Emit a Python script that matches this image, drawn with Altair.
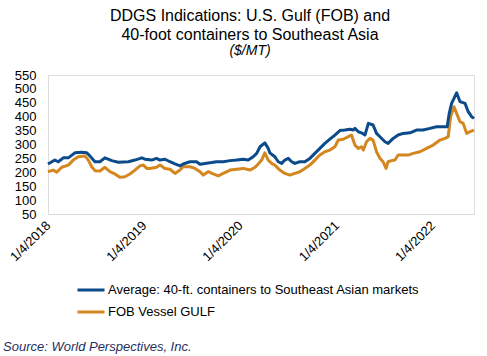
import altair as alt
import pandas as pd

SERIES_A = "Average: 40-ft. containers to Southeast Asian markets"
SERIES_B = "FOB Vessel GULF"

blue_dates = [
    "2018-01-04", "2018-01-30", "2018-02-12", "2018-03-03", "2018-03-22", "2018-04-16",
    "2018-05-12", "2018-05-31", "2018-06-12", "2018-07-01", "2018-07-20", "2018-08-08",
    "2018-09-03", "2018-09-28", "2018-11-05", "2018-11-30", "2018-12-26", "2019-01-07",
    "2019-02-02", "2019-02-20", "2019-03-05", "2019-03-24", "2019-04-12", "2019-05-01",
    "2019-05-20", "2019-06-01", "2019-06-27", "2019-07-22", "2019-08-04", "2019-08-23",
    "2019-09-17", "2019-10-06", "2019-10-31", "2019-11-26", "2019-12-21", "2020-01-15",
    "2020-02-03", "2020-02-22", "2020-03-06", "2020-03-19", "2020-04-06", "2020-04-19",
    "2020-04-25", "2020-05-14", "2020-05-27", "2020-06-09", "2020-06-21", "2020-07-04",
    "2020-07-17", "2020-07-29", "2020-08-17", "2020-09-05", "2020-09-24", "2020-10-13",
    "2020-11-01", "2020-11-20", "2020-12-09", "2020-12-28", "2021-01-16", "2021-02-04",
    "2021-02-23", "2021-03-08", "2021-03-14", "2021-03-27", "2021-04-08", "2021-04-21",
    "2021-05-04", "2021-05-22", "2021-06-04", "2021-06-17", "2021-07-06", "2021-07-18",
    "2021-08-06", "2021-08-25", "2021-09-13", "2021-10-09", "2021-11-03", "2021-11-28",
    "2021-12-24", "2022-01-18", "2022-02-12", "2022-02-27", "2022-03-07", "2022-03-16",
    "2022-04-04", "2022-04-17", "2022-05-06", "2022-05-18", "2022-05-31", "2022-06-09",
]
blue_vals = [
    230, 244, 238, 252, 252, 270,
    272, 270, 259, 238, 238, 252,
    242, 236, 238, 244, 252, 247,
    244, 250, 244, 247, 238, 230,
    223, 230, 238, 238, 229, 232,
    235, 238, 238, 242, 244, 247,
    244, 256, 268, 292, 306, 286,
    270, 256, 238, 232, 244, 250,
    238, 232, 238, 238, 250, 268,
    286, 304, 319, 334, 350, 352,
    355, 352, 358, 346, 342, 334,
    376, 370, 340, 328, 310, 304,
    322, 334, 340, 342, 352, 352,
    358, 364, 364, 364, 412, 448,
    486, 454, 448, 418, 400, 394,
]

orange_dates = [
    "2018-01-04", "2018-01-24", "2018-02-06", "2018-02-25", "2018-03-22", "2018-04-10",
    "2018-04-29", "2018-05-24", "2018-06-06", "2018-06-19", "2018-07-01", "2018-07-20",
    "2018-08-08", "2018-08-27", "2018-09-15", "2018-10-04", "2018-10-23", "2018-11-11",
    "2018-11-30", "2018-12-19", "2019-01-01", "2019-01-14", "2019-01-26", "2019-02-20",
    "2019-03-05", "2019-03-24", "2019-04-12", "2019-05-01", "2019-05-20", "2019-06-01",
    "2019-06-27", "2019-07-16", "2019-08-04", "2019-08-16", "2019-09-04", "2019-09-23",
    "2019-10-12", "2019-10-31", "2019-11-26", "2019-12-21", "2020-01-15", "2020-02-10",
    "2020-02-29", "2020-03-12", "2020-03-25", "2020-04-06", "2020-04-19", "2020-05-02",
    "2020-05-14", "2020-06-02", "2020-06-21", "2020-07-10", "2020-07-29", "2020-08-17",
    "2020-09-05", "2020-09-24", "2020-10-13", "2020-11-01", "2020-11-20", "2020-12-09",
    "2020-12-28", "2021-01-10", "2021-01-29", "2021-02-17", "2021-03-01", "2021-03-14",
    "2021-03-27", "2021-04-08", "2021-04-15", "2021-04-27", "2021-05-10", "2021-05-22",
    "2021-06-04", "2021-06-17", "2021-06-29", "2021-07-10", "2021-07-18", "2021-07-31",
    "2021-08-13", "2021-08-25", "2021-09-13", "2021-10-02", "2021-10-21", "2021-11-16",
    "2021-12-11", "2022-01-05", "2022-01-31", "2022-02-19", "2022-03-03", "2022-03-12",
    "2022-03-25", "2022-04-04", "2022-04-17", "2022-04-29", "2022-05-12", "2022-05-25",
    "2022-06-09",
]
orange_vals = [
    202, 208, 200, 218, 226, 244,
    256, 259, 244, 220, 206, 205,
    218, 202, 194, 182, 184, 194,
    208, 223, 226, 214, 214, 218,
    226, 214, 211, 196, 208, 220,
    220, 214, 202, 190, 202, 194,
    187, 196, 208, 211, 214, 208,
    218, 230, 244, 270, 244, 232,
    226, 208, 196, 190, 196, 202,
    214, 226, 244, 262, 274, 280,
    292, 316, 319, 328, 334, 298,
    286, 292, 280, 310, 322, 316,
    274, 250, 238, 214, 238, 242,
    244, 262, 262, 262, 268, 274,
    286, 298, 316, 322, 328, 400,
    436, 412, 382, 376, 340, 346,
    352,
]

y_ticks = [50, 100, 150, 200, 250, 300, 350, 400, 450, 500, 550]
tick_years = [2018, 2019, 2020, 2021, 2022]

BLUE = "#0B4A8B"
ORANGE = "#D4861F"
FONT = "Liberation Sans"

df = pd.concat([
    pd.DataFrame({"date": blue_dates, "value": blue_vals, "series": SERIES_A}),
    pd.DataFrame({"date": orange_dates, "value": orange_vals, "series": SERIES_B}),
], ignore_index=True)

x_enc = alt.X(
    "date:T",
    scale=alt.Scale(
        type="utc",
        domain=[alt.DateTime(year=2018, month=1, date=4, utc=True),
                alt.DateTime(year=2022, month=6, date=9, utc=True)],
    ),
    axis=alt.Axis(
        values=[alt.DateTime(year=y, month=1, date=4, utc=True) for y in tick_years],
        labelExpr="utcFormat(datum.value, '%-m/%-d/%Y')",
        labelAngle=315, labelAlign="right", labelBaseline="middle",
        labelPadding=9, ticks=False, grid=False, title=None,
        domainColor="#D9D9D9", domainWidth=1,
        labelFontSize=13, labelColor="#000000", labelFont=FONT,
        labelOverlap=False, labelFlush=False,
    ),
)
y_enc = alt.Y(
    "value:Q",
    scale=alt.Scale(domain=[50, 550], nice=False, zero=False),
    axis=alt.Axis(
        values=y_ticks, domain=False, ticks=False, grid=False, title=None,
        labelPadding=12, labelFontSize=13, labelColor="#000000", labelFont=FONT,
        labelOverlap=False, labelFlush=False,
    ),
)
color_enc = alt.Color(
    "series:N",
    scale=alt.Scale(domain=[SERIES_A, SERIES_B], range=[BLUE, ORANGE]),
    legend=alt.Legend(
        orient="none", legendX=28, legendY=200, direction="vertical", title=None,
        symbolType="stroke", symbolSize=729, symbolStrokeWidth=3,
        labelFontSize=13, labelFont=FONT, labelColor="#000000", labelOffset=2,
        rowPadding=-4, padding=0, labelLimit=500,
    ),
)

base = alt.Chart(df)
orange_line = base.transform_filter(alt.datum.series == SERIES_B).mark_line(
    strokeWidth=3, strokeJoin="round"
).encode(x=x_enc, y=y_enc, color=color_enc)
blue_line = base.transform_filter(alt.datum.series == SERIES_A).mark_line(
    strokeWidth=3, strokeJoin="round"
).encode(x=x_enc, y=y_enc, color=color_enc)

source = alt.Chart(pd.DataFrame({"t": ["Source: World Perspectives, Inc."]})).mark_text(
    align="left", baseline="middle", fontStyle="italic", fontSize=13,
    font=FONT, color="#1F2F5F",
).encode(text="t:N", x=alt.value(-45), y=alt.value(272))

chart = alt.layer(orange_line, blue_line, source).properties(
    width=426,
    height=139,
    autosize=alt.AutoSizeParams(type="none"),
    padding={"left": 48, "top": 75, "right": 13, "bottom": 142},
    title=alt.TitleParams(
        text=["DDGS Indications: U.S. Gulf (FOB) and", "40-foot containers to Southeast Asia"],
        subtitle="($/MT)",
        fontSize=16, font=FONT, fontWeight="normal", color="#000000",
        subtitleFontSize=14, subtitleFont=FONT, subtitleFontStyle="italic",
        subtitleColor="#000000", subtitlePadding=1,
        lineHeight=19, subtitleLineHeight=17,
        anchor="middle", dx=-11, offset=11,
    ),
).configure_view(stroke=None).configure(font=FONT, background="white")

chart.save("out.html", embed_options={"renderer": "svg", "actions": False})
